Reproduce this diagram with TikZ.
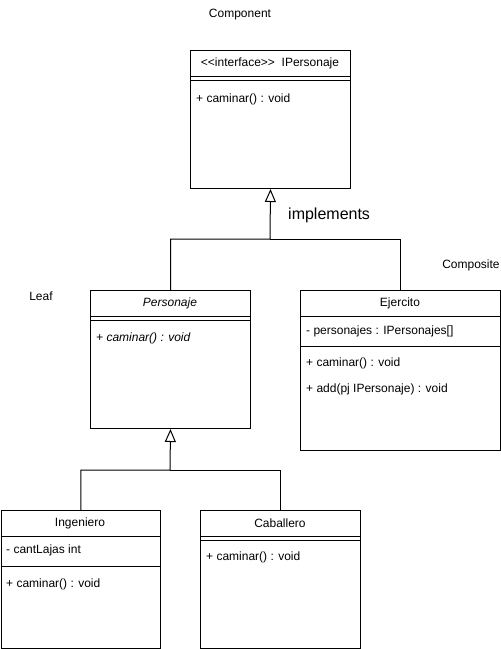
\documentclass[tikz,border=0pt]{standalone}
\usepackage{fontspec}
\setmainfont{Liberation Sans}
\usetikzlibrary{arrows.meta}
\begin{document}
\begin{tikzpicture}[x=1pt,y=-1pt,
  classbox/.style={draw, line width=1pt, rectangle, inner sep=0pt, anchor=north west},
  sep/.style={line width=1pt},
  lbl/.style={inner sep=0pt, font=\fontsize{12}{14}\selectfont},
  member/.style={lbl, anchor=west},
  link/.style={line width=1pt},
  gen/.style={link, -{Triangle[open, length=13pt, width=11pt, line width=1pt, fill=white]}}]
\useasboundingbox (0,0) rectangle (501,649);

% interface
\node[classbox, minimum width=160pt, minimum height=138pt] (ip) at (190,50) {};
\draw[sep] (ip.west |- 0,76) -- (ip.east |- 0,76);
\draw[sep] (ip.west |- 0,80) -- (ip.east |- 0,80);
\node[lbl] (ipname) at (270,63) {<{}<interface>{}>\ \ IPersonaje};
\node[member] (ipop) at (196,99) {+ caminar() : void};
\node[lbl] (component) at (240,15) {Component};

% abstract class
\node[classbox, minimum width=160pt, minimum height=138pt] (pers) at (90,290) {};
\draw[sep] (pers.west |- 0,316) -- (pers.east |- 0,316);
\draw[sep] (pers.west |- 0,320) -- (pers.east |- 0,320);
\node[lbl, font=\fontsize{12}{14}\selectfont\itshape] (persname) at (170,303) {Personaje};
\node[member, font=\fontsize{12}{14}\selectfont\itshape] (persop) at (96,338) {+ caminar() : void};
\node[lbl] (leaf) at (41,296) {Leaf};

% composite
\node[classbox, minimum width=199.5pt, minimum height=160pt] (ej) at (300,290) {};
\draw[sep] (ej.west |- 0,316) -- (ej.east |- 0,316);
\draw[sep] (ej.west |- 0,346) -- (ej.east |- 0,346);
\node[lbl] (ejname) at (400,303) {Ejercito};
\node[member] (ejattr) at (306,331) {- personajes : IPersonajes[]};
\node[member] (ejop1) at (306,363) {+ caminar() : void};
\node[member] (ejop2) at (306,389) {+ add(pj IPersonaje) : void};
\node[lbl] (composite) at (471,265) {Composite};

% leaves
\node[classbox, minimum width=159.5pt, minimum height=137.5pt] (ing) at (0.5,510) {};
\draw[sep] (ing.west |- 0,536) -- (ing.east |- 0,536);
\draw[sep] (ing.west |- 0,566) -- (ing.east |- 0,566);
\node[lbl] (ingname) at (80,523) {Ingeniero};
\node[member] (ingattr) at (6,550) {- cantLajas int};
\node[member] (ingop) at (6,584) {+ caminar() : void};

\node[classbox, minimum width=160pt, minimum height=137.5pt] (cab) at (200,510) {};
\draw[sep] (cab.west |- 0,536) -- (cab.east |- 0,536);
\draw[sep] (cab.west |- 0,540) -- (cab.east |- 0,540);
\node[lbl] (cabname) at (280,523) {Caballero};
\node[member] (cabop) at (206,557) {+ caminar() : void};

% realization of the interface
\coordinate (jtop) at (270,239);
\draw[gen] (pers.north) |- (jtop) -- (ip.south);
\draw[link] (ej.north) |- (jtop);
\node[lbl, font=\fontsize{16}{19}\selectfont, anchor=west] (impl) at (288,215) {implements};

% inheritance from Personaje
\coordinate (jlow) at (170,470);
\draw[gen] (ing.north) |- (jlow) -- (pers.south);
\draw[link] (cab.north) |- (jlow);
\end{tikzpicture}
\end{document}
